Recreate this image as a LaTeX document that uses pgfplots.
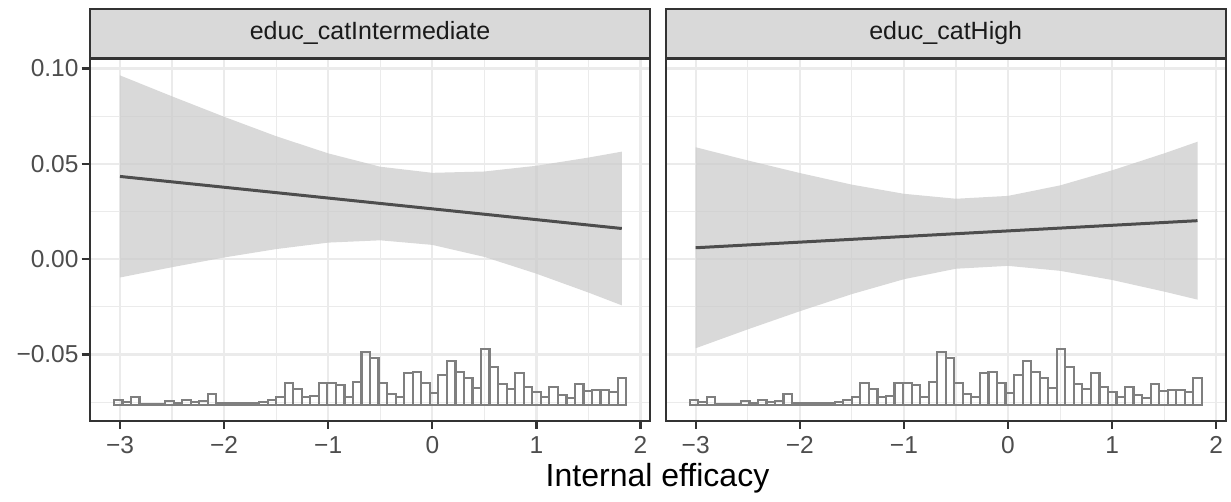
\documentclass[border=0pt]{standalone}
\usepackage{fontspec}
\setmainfont{Liberation Sans}
\usepackage{pgfplots}
\usepackage{pgfplotstable}
\pgfplotsset{compat=1.18}
\definecolor{g10}{HTML}{1A1A1A}
\definecolor{g20}{HTML}{333333}
\definecolor{g30}{HTML}{4D4D4D}
\definecolor{g50}{HTML}{7F7F7F}
\definecolor{g80}{HTML}{CCCCCC}
\definecolor{g85}{HTML}{D9D9D9}
\definecolor{g92}{HTML}{EBEBEB}

% histogram of the moderator (relative heights), bin left edges
\pgfplotstableread{
x h
-3.058 5
-2.976 2.5
-2.894 8
-2.812 1
-2.730 1
-2.648 1
-2.566 3.5
-2.484 2
-2.402 4.7
-2.320 3
-2.238 4
-2.156 10.4
-2.074 2
-1.992 1.5
-1.910 2
-1.828 1.5
-1.746 2
-1.664 2.7
-1.582 4.7
-1.500 8
-1.418 21.4
-1.336 15.4
-1.254 7.4
-1.172 8.7
-1.090 21.4
-1.008 22
-0.926 19.7
-0.844 7.4
-0.762 23
-0.680 53
-0.598 46.4
-0.516 21.4
-0.434 10.7
-0.352 8
-0.270 32
-0.188 33
-0.106 22
-0.024 12
0.058 29.7
0.140 44
0.222 33
0.304 26.4
0.386 16.4
0.468 55.4
0.550 38
0.632 20.4
0.714 15.4
0.796 31.4
0.878 18
0.960 13
1.042 8
1.124 18
1.206 9.7
1.288 6.4
1.370 20.4
1.452 14
1.534 14.7
1.616 14.7
1.698 13
1.780 26.4
1.862 26.4
}\histdata

\pgfplotsset{
  panel/.style={
    scale only axis, width=560pt, height=361.7pt,
    xmin=-3.288, xmax=2.091, ymin=-0.0847, ymax=0.105,
    xtick={-3,-2,-1,0,1,2},
    xticklabels={−3,−2,−1,0,1,2},
    ytick={-0.05,0,0.05,0.10},
    minor xtick={-2.5,-1.5,-0.5,0.5,1.5},
    minor ytick={-0.075,-0.025,0.025,0.075},
    grid=both,
    major grid style={draw=g92, line width=2.2pt},
    minor grid style={draw=g92, line width=1.1pt},
    minor tick length=0pt,
    major tick length=8.3pt,
    tick align=outside,
    xtick pos=left, ytick pos=left,
    tick style={draw=g20, line width=2.2pt},
    axis line style={draw=g20, line width=2.2pt},
    ticklabel style={font=\fontsize{24.5}{24.5}\selectfont, text=g30, inner sep=0pt},
    xticklabel style={yshift=-7pt},
    yticklabel style={xshift=-3pt},
    every axis title/.style={at={(0.5,1)}, anchor=south, draw=g20, fill=g85,
      line width=2.2pt, minimum width=560pt, minimum height=49pt, inner sep=0pt,
      font=\fontsize{25}{25}\selectfont, text=g10},
  },
  histo/.style={
    scale only axis, width=560pt, height=361.7pt,
    xmin=-3.288, xmax=2.091, ymin=-16, ymax=345.7, hide axis,
  },
}

\begin{document}
\begin{tikzpicture}
\useasboundingbox (0,0) rectangle (1231pt,502pt);

% ---- left panel
\begin{axis}[panel, at={(90pt,81.3pt)}, anchor=south west,
  yticklabels={−0.05,0.00,0.05,0.10},
  title={educ\_catIntermediate}]
\addplot[draw=none, fill=g80, fill opacity=0.75] coordinates {
(-3,0.0964)(-2.5,0.0854)(-2,0.0747)(-1.5,0.0645)(-1,0.0555)(-0.5,0.0485)(0,0.0453)(0.5,0.0460)(1,0.0490)(1.5,0.0533)(1.82,0.0564)
(1.82,-0.0242)(1.5,-0.0175)(1,-0.0076)(0.5,0.0012)(0,0.0075)(-0.5,0.0099)(-1,0.0087)(-1.5,0.0053)(-2,0.0009)(-2.5,-0.0042)(-3,-0.0096)(-3,0.0964)};
\addplot[draw=g30, line width=3pt] coordinates {(-3,0.0434)(1.82,0.0161)};
\end{axis}
\begin{axis}[histo, at={(90pt,81.3pt)}, anchor=south west]
\addplot[ybar interval, draw=g50, fill=none, line width=2.2pt] table[x=x,y=h] {\histdata};
\end{axis}

% ---- right panel
\begin{axis}[panel, at={(665.7pt,81.3pt)}, anchor=south west,
  yticklabels={}, ytick style={draw=none},
  title={educ\_catHigh}]
\addplot[draw=none, fill=g80, fill opacity=0.75] coordinates {
(-3,0.0587)(-2.5,0.0518)(-2,0.0452)(-1.5,0.0391)(-1,0.0343)(-0.5,0.0317)(0,0.0332)(0.5,0.0387)(1,0.0466)(1.5,0.0555)(1.82,0.0616)
(1.82,-0.0212)(1.5,-0.0170)(1,-0.0109)(0.5,-0.0061)(0,-0.0035)(-0.5,-0.0050)(-1,-0.0105)(-1.5,-0.0183)(-2,-0.0273)(-2.5,-0.0368)(-3,-0.0467)(-3,0.0587)};
\addplot[draw=g30, line width=3pt] coordinates {(-3,0.0060)(1.82,0.0202)};
\end{axis}
\begin{axis}[histo, at={(665.7pt,81.3pt)}, anchor=south west]
\addplot[ybar interval, draw=g50, fill=none, line width=2.2pt] table[x=x,y=h] {\histdata};
\end{axis}

\node[font=\fontsize{32}{32}\selectfont, text=black] at (657.5pt,24pt) {Internal efficacy};
\end{tikzpicture}
\end{document}
